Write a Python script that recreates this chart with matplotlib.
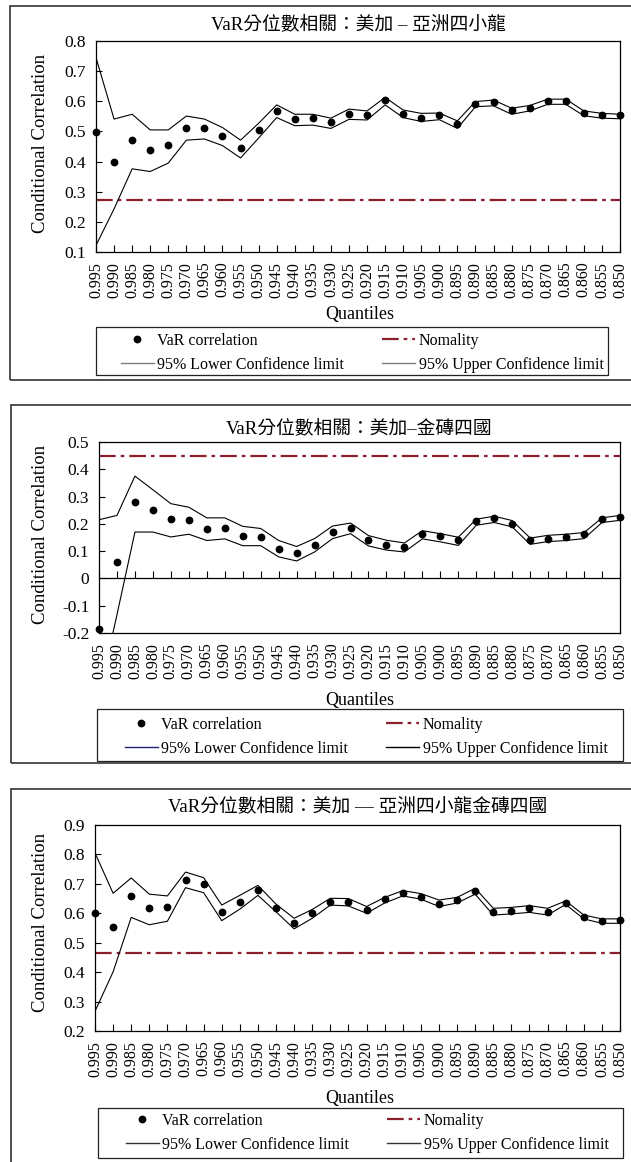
import matplotlib
matplotlib.use('Agg')
import matplotlib.pyplot as plt
from matplotlib.lines import Line2D
from matplotlib.patches import Rectangle
from matplotlib.ticker import MultipleLocator, FuncFormatter

plt.rcParams['font.family'] = ['Liberation Serif', 'Noto Sans CJK TC']
plt.rcParams['lines.scale_dashes'] = False
plt.rcParams['axes.unicode_minus'] = False

W, H = 631, 1162

# ---------------- data ----------------
quantiles = ['0.995', '0.990', '0.985', '0.980', '0.975', '0.970', '0.965', '0.960',
             '0.955', '0.950', '0.945', '0.940', '0.935', '0.930', '0.925', '0.920',
             '0.915', '0.910', '0.905', '0.900', '0.895', '0.890', '0.885', '0.880',
             '0.875', '0.870', '0.865', '0.860', '0.855', '0.850']

titles = ['VaR分位數相關：美加 – 亞洲四小龍',
          'VaR分位數相關：美加–金磚四國',
          'VaR分位數相關：美加 — 亞洲四小龍金磚四國']

legend_labels = ['VaR correlation', '95% Lower Confidence limit',
                 'Nomality', '95% Upper Confidence limit']

# Panel 1: US/Canada - Asian four dragons
p1_var = [0.499, 0.400, 0.473, 0.437, 0.454, 0.513, 0.511, 0.486, 0.445, 0.505,
          0.567, 0.540, 0.543, 0.530, 0.559, 0.553, 0.604, 0.559, 0.546, 0.553,
          0.523, 0.590, 0.598, 0.570, 0.579, 0.602, 0.602, 0.561, 0.555, 0.553]
p1_upper = [0.745, 0.541, 0.557, 0.505, 0.505, 0.551, 0.541, 0.513, 0.471, 0.527,
            0.588, 0.557, 0.557, 0.544, 0.574, 0.568, 0.613, 0.571, 0.560, 0.561,
            0.535, 0.599, 0.604, 0.577, 0.586, 0.607, 0.607, 0.568, 0.560, 0.557]
p1_lower = [0.122, 0.243, 0.376, 0.367, 0.395, 0.471, 0.475, 0.453, 0.412, 0.478,
            0.546, 0.519, 0.521, 0.510, 0.540, 0.538, 0.588, 0.546, 0.533, 0.539,
            0.510, 0.582, 0.585, 0.557, 0.568, 0.590, 0.590, 0.552, 0.544, 0.542]
p1_normal = 0.271

# Panel 2: US/Canada - BRIC
p2_var = [-0.184, 0.062, 0.280, 0.251, 0.217, 0.213, 0.181, 0.185, 0.157, 0.153,
          0.108, 0.093, 0.123, 0.170, 0.185, 0.140, 0.121, 0.114, 0.161, 0.154,
          0.140, 0.211, 0.220, 0.200, 0.140, 0.146, 0.152, 0.161, 0.218, 0.225]
p2_upper = [0.215, 0.231, 0.375, 0.325, 0.274, 0.261, 0.222, 0.222, 0.191, 0.183,
            0.139, 0.117, 0.146, 0.192, 0.203, 0.157, 0.140, 0.130, 0.175, 0.164,
            0.151, 0.217, 0.228, 0.212, 0.148, 0.158, 0.162, 0.168, 0.222, 0.231]
p2_lower = [-0.430, -0.133, 0.170, 0.170, 0.152, 0.162, 0.139, 0.145, 0.120, 0.120,
            0.079, 0.064, 0.097, 0.146, 0.164, 0.119, 0.104, 0.097, 0.145, 0.134,
            0.121, 0.195, 0.205, 0.189, 0.125, 0.135, 0.139, 0.146, 0.205, 0.213]
p2_normal = 0.450

# Panel 3: US/Canada - Asian four dragons + BRIC
p3_var = [0.601, 0.553, 0.659, 0.618, 0.621, 0.714, 0.698, 0.605, 0.640, 0.678,
          0.618, 0.566, 0.601, 0.640, 0.638, 0.612, 0.648, 0.670, 0.657, 0.633,
          0.644, 0.677, 0.605, 0.609, 0.617, 0.605, 0.636, 0.588, 0.573, 0.576]
p3_upper = [0.805, 0.668, 0.720, 0.665, 0.659, 0.740, 0.721, 0.628, 0.661, 0.695,
            0.631, 0.583, 0.613, 0.651, 0.650, 0.623, 0.654, 0.677, 0.667, 0.645,
            0.654, 0.685, 0.617, 0.620, 0.626, 0.617, 0.642, 0.594, 0.581, 0.581]
p3_lower = [0.267, 0.401, 0.586, 0.561, 0.573, 0.687, 0.670, 0.575, 0.614, 0.661,
            0.605, 0.547, 0.583, 0.628, 0.625, 0.600, 0.635, 0.659, 0.648, 0.623,
            0.635, 0.665, 0.594, 0.598, 0.603, 0.594, 0.630, 0.581, 0.566, 0.566]
p3_normal = 0.465

ylims = [(0.1, 0.8), (-0.2, 0.5), (0.2, 0.9)]

RED = '#8b1f2e'
NDASH = (12.0, 3.6, 2.6, 3.6)

panels = [
    dict(var=p1_var, upper=p1_upper, lower=p1_lower, normal=p1_normal, ylim=ylims[0],
         title=titles[0], box=(96, 41, 620, 252), frame=(10, 6, 640, 380),
         title_y=24, ylab=(41, 143), xlab_y=314, leg_box=(96, 327, 608, 375),
         leg_c=(362, 353), lowc='#7f7f7f', upc='#7f7f7f'),
    dict(var=p2_var, upper=p2_upper, lower=p2_lower, normal=p2_normal, ylim=ylims[1],
         title=titles[1], box=(99, 442, 620, 633), frame=(11, 405, 640, 763),
         title_y=428, ylab=(41, 534), xlab_y=700, leg_box=(97, 709, 623, 761),
         leg_c=(366, 737), lowc='#1f1f78', upc='#000000'),
    dict(var=p3_var, upper=p3_upper, lower=p3_lower, normal=p3_normal, ylim=ylims[2],
         title=titles[2], box=(95, 825, 620, 1031), frame=(11, 789, 640, 1175),
         title_y=806, ylab=(41, 922), xlab_y=1098, leg_box=(98, 1108, 623, 1158),
         leg_c=(367, 1133), lowc='#333333', upc='#333333'),
]

fig = plt.figure(figsize=(W / 100, H / 100), dpi=100)
fig.patch.set_facecolor('white')


def fx(x):
    return x / W


def fy(y):
    return 1 - y / H


def ylab_fmt(v, pos):
    if abs(v) < 1e-9:
        return '0'
    return f'{v:.1f}'


x = list(range(len(quantiles)))

for p in panels:
    l, t, r, b = p['box']
    ax = fig.add_axes([fx(l), fy(b), (r - l) / W, (b - t) / H])
    ax.plot(x, p['upper'], color='black', lw=0.8, zorder=3)
    ax.plot(x, p['lower'], color='black', lw=0.8, zorder=3)
    ax.axhline(p['normal'], color=RED, lw=1.6, dashes=NDASH, zorder=2)
    ax.plot(x, p['var'], 'o', color='black', ms=4.6, clip_on=False, zorder=5)
    ax.set_xlim(0, len(quantiles) - 1)
    ax.set_ylim(*p['ylim'])
    ax.yaxis.set_major_locator(MultipleLocator(0.1))
    ax.yaxis.set_major_formatter(FuncFormatter(ylab_fmt))
    ax.set_xticks(x)
    ax.set_xticklabels(quantiles, rotation=90)
    ax.tick_params(axis='y', direction='in', length=4, width=0.8, pad=7,
                   labelsize=12.5)
    ax.tick_params(axis='x', direction='in', length=5, width=0.8, pad=7,
                   labelsize=11.5)
    for s in ax.spines.values():
        s.set_linewidth(0.9)
    y0, y1 = p['ylim']
    if y0 < 0 < y1:
        ax.tick_params(axis='x', length=0)
        sec = ax.secondary_xaxis((0 - y0) / (y1 - y0))
        sec.set_xticks(x)
        sec.set_xticklabels([])
        sec.tick_params(axis='x', direction='in', length=5, width=0.8)
        sec.spines['bottom'].set_linewidth(0.9)

    # title, axis labels
    fig.text(fx((l + r) / 2), fy(p['title_y']), p['title'], ha='center', va='center',
             fontsize=13.5)
    fig.text(fx(p['ylab'][0]), fy(p['ylab'][1]), 'Conditional Correlation', rotation=90,
             ha='center', va='center', fontsize=13.5)
    fig.text(fx(360), fy(p['xlab_y']), 'Quantiles', ha='center', va='center',
             fontsize=13)

    # outer frame
    fl, ft, fr, fb = p['frame']
    fig.add_artist(Rectangle((fx(fl), fy(fb)), (fr - fl) / W, (fb - ft) / H,
                             transform=fig.transFigure, fill=False, lw=1.2,
                             ec='#333333'))
    # legend frame
    ll, lt, lr, lb = p['leg_box']
    fig.add_artist(Rectangle((fx(ll), fy(lb)), (lr - ll) / W, (lb - lt) / H,
                             transform=fig.transFigure, fill=False, lw=0.9,
                             ec='#222222'))
    handles = [Line2D([], [], marker='o', ls='none', color='black', ms=4.6),
               Line2D([], [], color=p['lowc'], lw=1.0),
               Line2D([], [], color=RED, lw=1.6, dashes=NDASH),
               Line2D([], [], color=p['upc'], lw=1.0)]
    fig.legend(handles, legend_labels, ncol=2, loc='center',
               bbox_to_anchor=(fx(p['leg_c'][0]), fy(p['leg_c'][1])),
               frameon=False, fontsize=11.5, handlelength=2.1, handletextpad=0.2,
               columnspacing=2.35, borderpad=0, borderaxespad=0, labelspacing=0.5)

fig.savefig('out.png', dpi=100)
